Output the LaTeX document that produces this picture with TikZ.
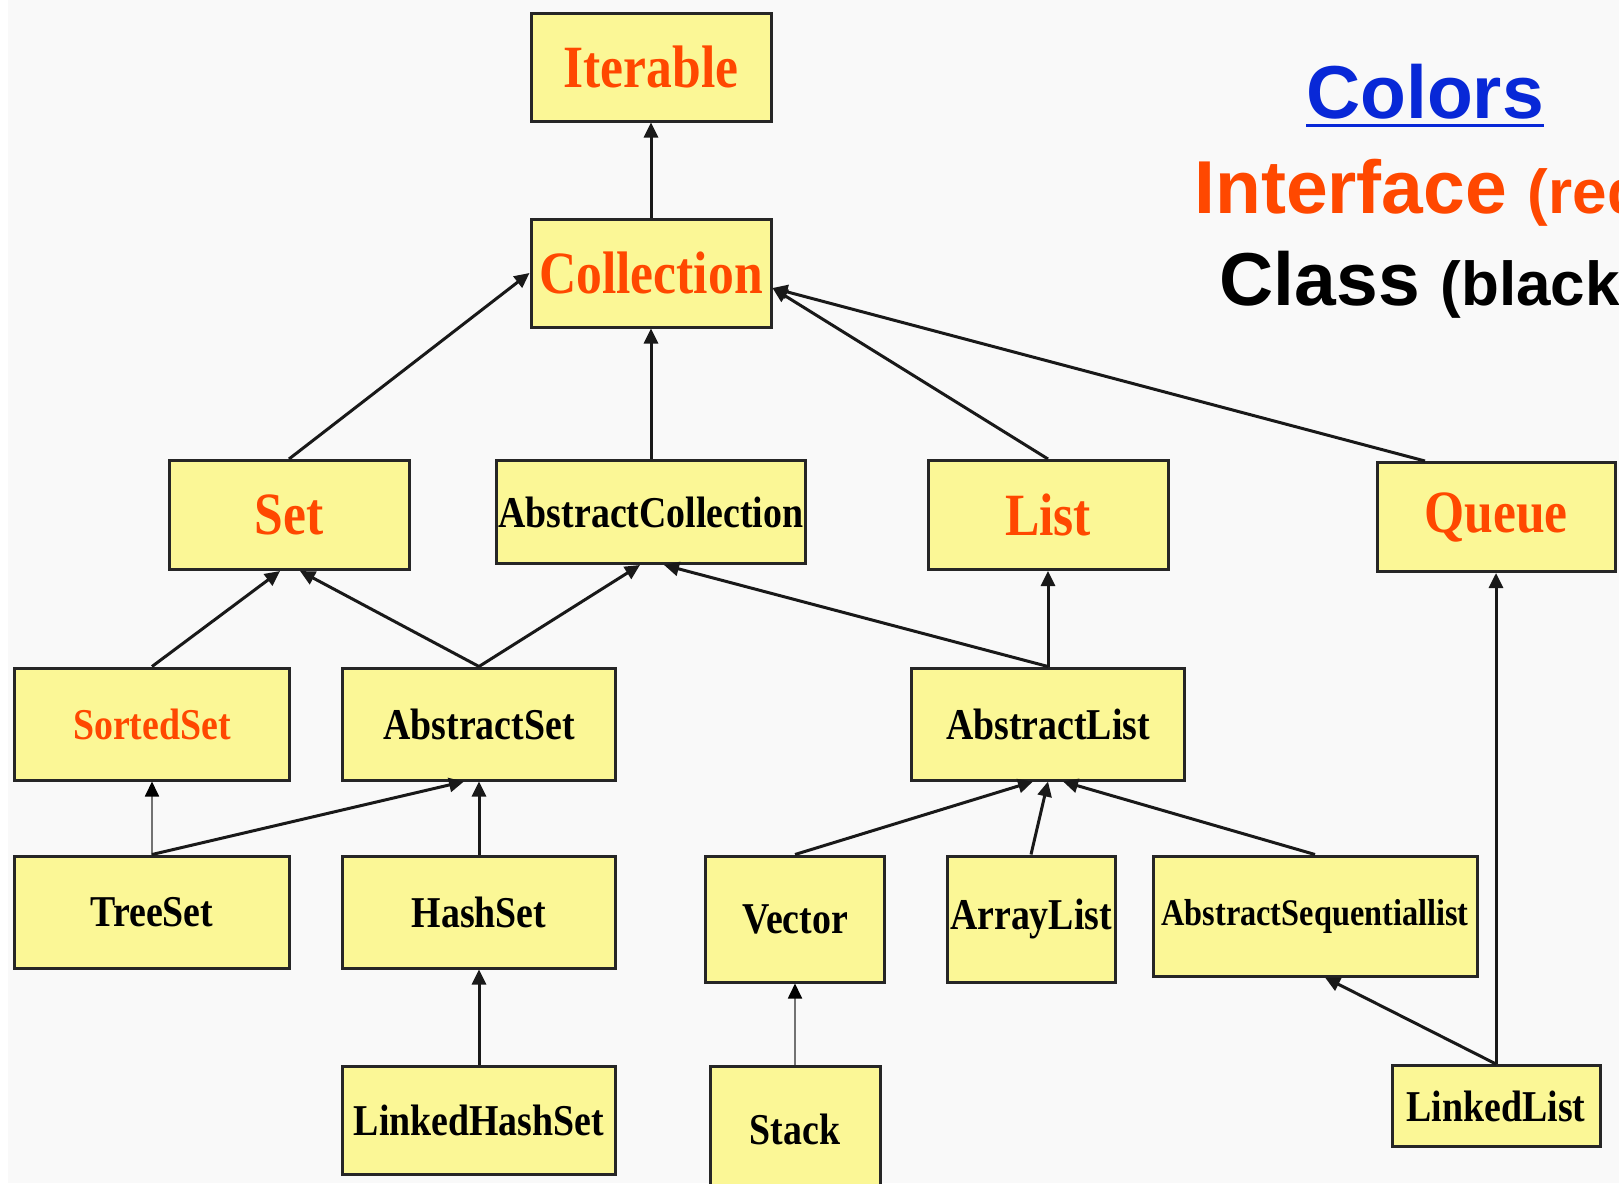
\documentclass[tikz,border=0pt]{standalone}
\usepackage{fontspec}
\usetikzlibrary{arrows.meta}
\newfontfamily\cajafont[FakeStretch=0.86]{Liberation Serif Bold}
\newfontfamily\leyfont{Liberation Sans Bold}
\definecolor{amarillo}{RGB}{251,247,150}
\definecolor{naranja}{RGB}{255,72,0}
\definecolor{azul}{RGB}{8,40,215}
\definecolor{fondo}{RGB}{249,249,249}
\begin{document}
\begin{tikzpicture}[x=1pt,y=-1pt,
    caja/.style={draw=black!85, line width=3pt, fill=amarillo, inner sep=0pt},
    interfaz/.style={caja, text=naranja, font=\cajafont\fontsize{60}{60}\selectfont},
    clase/.style={caja, text=black, font=\cajafont\fontsize{44}{44}\selectfont},
    flecha/.style={line width=3pt, draw=black!90, -{Triangle[length=15pt,width=14pt]}},
    fina/.style={line width=1.8pt, draw=black!55, -{Triangle[length=15pt,width=14pt,color=black]}},
    leyenda/.style={anchor=base, inner sep=0pt}]
        % Fondo
        \useasboundingbox (0,0) rectangle (1619,1183);
        \clip (0,0) rectangle (1619,1183);
        \fill[fondo] (0,0) rectangle (1619,1183);
        \fill[white] (0,0) rectangle (8,1183);

        % Interfaces
        \node[interfaz, minimum width=240, minimum height=108] (iter) at (651,67) {Iterable};
        \node[interfaz, minimum width=240, minimum height=108] (coll) at (651,273) {Collection};
        \node[interfaz, minimum width=240, minimum height=109] (set) at (289,515) {Set};
        \node[interfaz, minimum width=240, minimum height=109] (list) at (1048,515) {List};
        \node[interfaz, minimum width=238, minimum height=109] (queue) at (1496,517) {Queue};
        \node[interfaz, minimum width=275, minimum height=112, font=\cajafont\fontsize{44}{44}\selectfont] (sset) at (152,724) {SortedSet};

        % Clases
        \node[clase, minimum width=309, minimum height=103] (acoll) at (651,512) {AbstractCollection};
        \node[clase, minimum width=273, minimum height=112] (aset) at (479,724) {AbstractSet};
        \node[clase, minimum width=273, minimum height=112] (alist) at (1048,724) {AbstractList};
        \node[clase, minimum width=275, minimum height=112] (tset) at (152,912) {TreeSet};
        \node[clase, minimum width=273, minimum height=112] (hset) at (479,912) {HashSet};
        \node[clase, minimum width=179, minimum height=126] (vec) at (795,919) {Vector};
        \node[clase, minimum width=168, minimum height=126] (alst) at (1031,919) {ArrayList};
        \node[clase, minimum width=324, minimum height=120, font=\cajafont\fontsize{37.6}{37.6}\selectfont] (aseq) at (1315,916) {AbstractSequentiallist};
        \node[clase, minimum width=273, minimum height=108] (lhset) at (479,1120) {LinkedHashSet};
        \node[clase, minimum width=170, minimum height=126] (stack) at (795,1129) {Stack};
        \node[clase, minimum width=208, minimum height=81] (llist) at (1496,1106) {LinkedList};

        % Flechas
        \draw[flecha] (coll) -- (iter);
        \draw[flecha] (set.north) -- (coll.west);
        \draw[flecha] (acoll) -- (coll);
        \draw[flecha] (list.north) -- ([yshift=-15]coll.east);
        \draw[flecha] ([xshift=-71]queue.north) -- ([yshift=-15]coll.east);
        \draw[flecha] (sset.north) -- ([xshift=-9]set.south);
        \draw[flecha] (aset.north) -- ([xshift=11]set.south);
        \draw[flecha] (aset.north) -- ([xshift=-11]acoll.south);
        \draw[flecha] (alist.north) -- ([xshift=13]acoll.south);
        \draw[flecha] (alist) -- (list);
        \draw[fina] (tset) -- (sset);
        \draw[flecha] (tset.north) -- ([xshift=-15]aset.south);
        \draw[flecha] (hset) -- (aset);
        \draw[flecha] (lhset) -- (hset);
        \draw[flecha] (vec.north) -- ([xshift=-15]alist.south);
        \draw[flecha] (alst.north) -- (alist.south);
        \draw[flecha] (aseq.north) -- ([xshift=15]alist.south);
        \draw[fina] (stack) -- (vec);
        \draw[flecha] (llist.north) -- ([xshift=10]aseq.south);
        \draw[flecha] (llist) -- (queue);

        % Leyenda
        \node[leyenda, text=azul, font=\leyfont\fontsize{75}{75}\selectfont] (colores) at (1425,118) {Colors};
        \draw[azul, line width=3pt] ([yshift=-7]colores.base west) -- ([yshift=-7]colores.base east);
        \node[leyenda, text=naranja, font=\leyfont\fontsize{75}{75}\selectfont] (leyint) at (1430,213) {Interface {\fontsize{62}{62}\selectfont (red)}};
        \node[leyenda, text=black, font=\leyfont\fontsize{75}{75}\selectfont] (leycla) at (1430,305) {Class {\fontsize{62}{62}\selectfont (black)}};
    \end{tikzpicture}
\end{document}
